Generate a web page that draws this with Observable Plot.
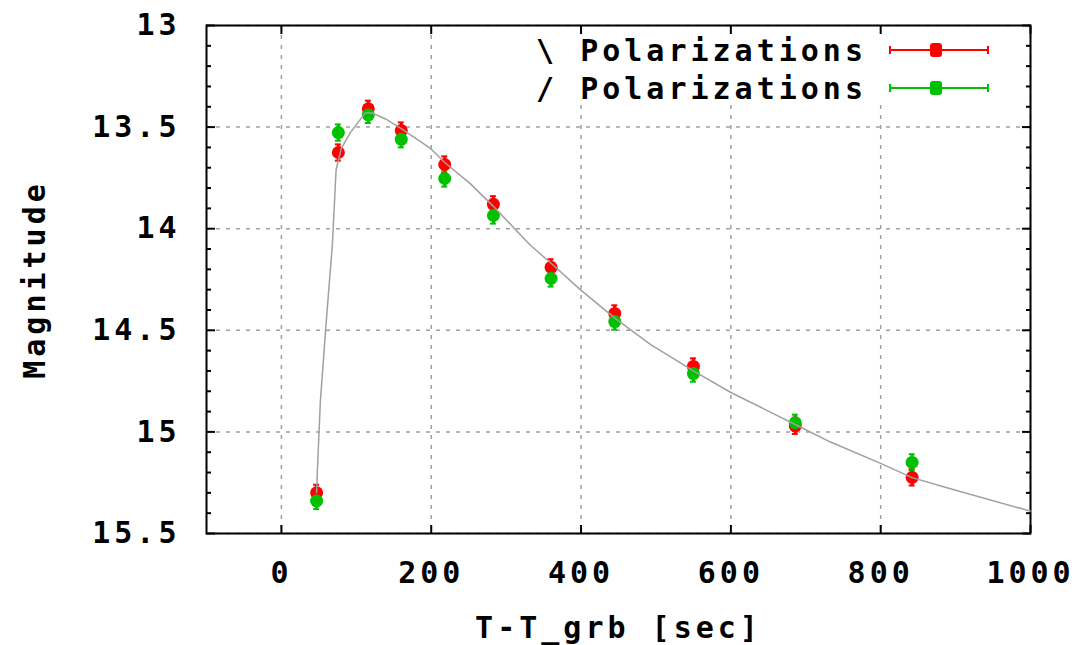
<!DOCTYPE html>
<html><head><meta charset="utf-8">
<script src="https://cdn.jsdelivr.net/npm/d3@7"></script>
<script src="https://cdn.jsdelivr.net/npm/@observablehq/plot@0.6"></script>
<style>body{margin:0;background:#fff}</style>
</head><body><div id="chart"></div>
<script>
// ---- data ----
const times = [47, 76, 116, 160, 218, 283, 360, 445, 550, 686, 842];
const magBackslash = [15.30, 13.625, 13.41, 13.517, 13.684, 13.88, 14.19, 14.417, 14.678, 14.97, 15.224];
const magSlash     = [15.34, 13.527, 13.44, 13.56, 13.753, 13.935, 14.245, 14.457, 14.713, 14.955, 15.15];
const errBackslash = [0.04, 0.04, 0.04, 0.04, 0.04, 0.04, 0.04, 0.04, 0.04, 0.04, 0.04];
const errSlash     = [0.04, 0.04, 0.04, 0.04, 0.04, 0.04, 0.04, 0.04, 0.04, 0.04, 0.04];
const modelT   = [47, 48, 52, 60, 68, 73, 80, 92, 112, 121, 139, 160, 199, 218, 252, 283, 332, 360, 399, 445, 493, 550, 600, 684, 733, 800, 842, 893, 1000];
const modelMag = [15.30, 15.19, 14.85, 14.45, 14.08, 13.71, 13.605, 13.527, 13.43, 13.43, 13.46, 13.507, 13.605, 13.674, 13.778, 13.89, 14.08, 14.17, 14.30, 14.44, 14.57, 14.70, 14.806, 14.96, 15.05, 15.155, 15.225, 15.28, 15.39];
const seriesNames  = ["\\ Polarizations", "/ Polarizations"];
const seriesColors = ["#ff0000", "#00c000"];
const xTicks = [0, 200, 400, 600, 800, 1000];
const yMajorTicks = [13, 13.5, 14, 14.5, 15, 15.5];
const yMinorTicks = [13.1, 13.2, 13.3, 13.4, 13.6, 13.7, 13.8, 13.9, 14.1, 14.2, 14.3, 14.4, 14.6, 14.7, 14.8, 14.9, 15.1, 15.2, 15.3, 15.4];
const xLabel = "T-T_grb [sec]";
const yLabel = "Magnitude";

// ---- build tables ----
const pts = [
  ...times.map((t, i) => ({t, mag: magBackslash[i], err: errBackslash[i], series: seriesNames[0]})),
  ...times.map((t, i) => ({t, mag: magSlash[i], err: errSlash[i], series: seriesNames[1]}))
];
const model = modelT.map((t, i) => ({t, mag: modelMag[i]}));
const FONT = "'DejaVu Sans Mono', monospace";
const gridStyle = {stroke: "#a0a0a0", strokeOpacity: 1, strokeWidth: 1.5, strokeDasharray: "4,6"};

function legend(index, scales, values, dim) {
  const right = dim.width - dim.marginRight, top = dim.marginTop;
  const g = d3.create("svg:g");
  g.append("rect").attr("x", right - 505).attr("y", top + 2).attr("width", 475).attr("height", 78).attr("fill", "white");
  seriesNames.forEach((name, i) => {
    const y = top + 25 + i * 38;
    const c = seriesColors[i];
    g.append("text").attr("x", right - 163).attr("y", y).attr("text-anchor", "end")
      .attr("dominant-baseline", "central").attr("font-family", FONT).attr("font-size", 30)
      .attr("font-weight", "bold").attr("fill", "black").text(name);
    g.append("line").attr("x1", right - 140).attr("x2", right - 42).attr("y1", y).attr("y2", y)
      .attr("stroke", c).attr("stroke-width", 2);
    [right - 140, right - 42].forEach(x => g.append("line").attr("x1", x).attr("x2", x)
      .attr("y1", y - 4).attr("y2", y + 4).attr("stroke", c).attr("stroke-width", 2));
    g.append("rect").attr("x", right - 100).attr("y", y - 7).attr("width", 12).attr("height", 14)
      .attr("rx", 3).attr("fill", c);
  });
  return g.node();
}

const chart = Plot.plot({
  width: 1090, height: 645,
  marginLeft: 206, marginRight: 60, marginTop: 25, marginBottom: 112,
  style: {fontFamily: FONT, fontSize: "30px", fontWeight: "bold", background: "white", overflow: "visible"},
  x: {domain: [-100, 1000]},
  y: {domain: [15.5, 13]},
  color: {domain: seriesNames, range: seriesColors},
  marks: [
    Plot.gridX(xTicks, gridStyle),
    Plot.gridY(yMajorTicks, gridStyle),
    legend,
    Plot.frame({stroke: "black", strokeWidth: 2}),
    Plot.axisX(xTicks, {anchor: "bottom", tickSize: 0, tickPadding: 28, fontSize: 30, label: null, tickFormat: d => String(d)}),
    Plot.axisX(xTicks, {anchor: "bottom", tickSize: -8, strokeWidth: 2, tickFormat: () => "", label: null}),
    Plot.axisX(xTicks, {anchor: "top", tickSize: -8, strokeWidth: 2, tickFormat: () => "", label: null}),
    Plot.axisY(yMajorTicks, {anchor: "left", tickSize: 0, tickPadding: 26, fontSize: 30, label: null, tickFormat: d => String(d)}),
    Plot.axisY(yMajorTicks, {anchor: "left", tickSize: -9, strokeWidth: 2, tickFormat: () => "", label: null}),
    Plot.axisY(yMajorTicks, {anchor: "right", tickSize: -9, strokeWidth: 2, tickFormat: () => "", label: null}),
    Plot.axisY(yMinorTicks, {anchor: "left", tickSize: -5, strokeWidth: 2, tickFormat: () => "", label: null}),
    Plot.axisY(yMinorTicks, {anchor: "right", tickSize: -5, strokeWidth: 2, tickFormat: () => "", label: null}),
    Plot.text([xLabel], {frameAnchor: "bottom", dy: 95, lineAnchor: "middle", textAnchor: "middle", fontSize: 30, fill: "black"}),
    Plot.text([yLabel], {frameAnchor: "left", dx: -171, rotate: -90, textAnchor: "middle", lineAnchor: "middle", fontSize: 30, fill: "black"}),
    Plot.ruleX(pts, {x: "t", y1: d => d.mag - d.err, y2: d => d.mag + d.err, stroke: "series", strokeWidth: 3}),
    Plot.ruleY(pts, {y: d => d.mag - d.err, x1: d => d.t - 4, x2: d => d.t + 4, stroke: "series", strokeWidth: 2}),
    Plot.ruleY(pts, {y: d => d.mag + d.err, x1: d => d.t - 4, x2: d => d.t + 4, stroke: "series", strokeWidth: 2}),
    Plot.dot(pts, {x: "t", y: "mag", r: 6.5, fill: "series", stroke: "none"}),
    Plot.line(model, {x: "t", y: "mag", stroke: "#a0a0a0", strokeWidth: 1.5})
  ]
});
chart.querySelectorAll("text").forEach(t => t.setAttribute("letter-spacing", "4px"));
document.getElementById("chart").appendChild(chart);
</script>
</body></html>
